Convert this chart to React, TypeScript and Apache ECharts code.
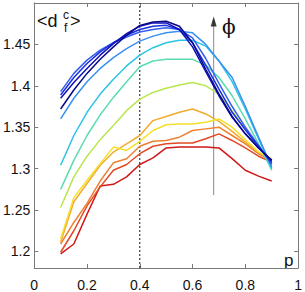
import React, { useEffect, useRef } from "react";
import * as echarts from "echarts";

// occupation probability p
const P = [0.1, 0.15, 0.2, 0.25, 0.3, 0.35, 0.4, 0.45, 0.5, 0.55, 0.6, 0.65, 0.7, 0.75, 0.8, 0.85, 0.9];

// <d_f^c> curves, from lowest phi (red) to highest phi (navy)
const R1 = [1.197, 1.209, 1.245, 1.279, 1.281, 1.29, 1.305, 1.313, 1.325, 1.326, 1.326, 1.326, 1.325, 1.312, 1.298, 1.291, 1.285];
const R2 = [1.199, 1.225, 1.255, 1.278, 1.298, 1.305, 1.318, 1.327, 1.33, 1.331, 1.331, 1.336, 1.342, 1.334, 1.325, 1.315, 1.308];
const R3 = [1.209, 1.235, 1.258, 1.285, 1.307, 1.312, 1.327, 1.333, 1.334, 1.338, 1.346, 1.348, 1.35, 1.34, 1.33, 1.318, 1.31];
const O1 = [1.211, 1.26, 1.282, 1.304, 1.32, 1.33, 1.34, 1.358, 1.363, 1.368, 1.372, 1.366, 1.357, 1.345, 1.332, 1.32, 1.31];
const YE = [1.215, 1.265, 1.286, 1.306, 1.326, 1.322, 1.333, 1.346, 1.353, 1.354, 1.354, 1.356, 1.36, 1.35, 1.335, 1.32, 1.312];
const YG = [1.253, 1.29, 1.315, 1.335, 1.352, 1.37, 1.384, 1.392, 1.397, 1.401, 1.404, 1.4, 1.39, 1.37, 1.348, 1.326, 1.306];
const GR = [1.275, 1.31, 1.34, 1.365, 1.386, 1.405, 1.423, 1.43, 1.432, 1.432, 1.432, 1.425, 1.41, 1.388, 1.36, 1.33, 1.298];
const CY = [1.304, 1.34, 1.368, 1.39, 1.408, 1.424, 1.437, 1.446, 1.452, 1.455, 1.455, 1.448, 1.43, 1.405, 1.372, 1.336, 1.3];
const AZ = [1.36, 1.385, 1.405, 1.421, 1.434, 1.445, 1.454, 1.46, 1.464, 1.466, 1.464, 1.45, 1.43, 1.41, 1.375, 1.338, 1.302];
const B4 = [1.393, 1.415, 1.431, 1.443, 1.452, 1.459, 1.465, 1.468, 1.47, 1.468, 1.458, 1.433, 1.403, 1.375, 1.35, 1.328, 1.305];
const B3 = [1.389, 1.41, 1.427, 1.441, 1.452, 1.461, 1.468, 1.472, 1.473, 1.468, 1.452, 1.425, 1.396, 1.368, 1.347, 1.327, 1.307];
const B2 = [1.385, 1.404, 1.421, 1.437, 1.451, 1.463, 1.472, 1.476, 1.476, 1.468, 1.447, 1.417, 1.388, 1.362, 1.342, 1.325, 1.31];
const B1 = [1.372, 1.395, 1.415, 1.432, 1.447, 1.461, 1.473, 1.477, 1.478, 1.472, 1.452, 1.42, 1.39, 1.363, 1.342, 1.325, 1.31];

const CURVES = [R1, R2, R3, O1, YE, YG, GR, CY, AZ, B4, B3, B2, B1];
const COLORS = ["#d01818", "#e04a26", "#ee8030", "#f0ac2c", "#f4e02a", "#b8e650", "#5cdcae", "#2cc4e4", "#3a90f0", "#3460f0", "#1a30e0", "#1010b8", "#080888"];

const X_TICKS = [0, 0.2, 0.4, 0.6, 0.8, 1];
const Y_TICKS = [1.2, 1.25, 1.3, 1.35, 1.4, 1.45];
const Y_MIN = 1.18;
const Y_MAX = 1.5;
const MARK_P = 0.4;
const ARROW_P = 0.68;
const ARROW_FROM = 1.268;
const ARROW_TO = 1.48;

const fmt = (v: number) => String(+Number(v).toFixed(2));

export default function App() {
  const ref = useRef<HTMLDivElement>(null);
  useEffect(() => {
    const chart = echarts.init(ref.current!, null, { renderer: "svg" });
    const axisColor = "#7a7a7a";
    const sans = "Liberation Sans, Arial, sans-serif";
    const labelFont = { color: "#111", fontSize: 14, fontFamily: sans };
    const xBase = {
      type: "value",
      min: 0,
      max: 1,
      interval: 0.2,
      splitLine: { show: false },
      axisLine: { show: true, onZero: false, lineStyle: { color: axisColor, width: 1 } },
      axisTick: { show: true, inside: true, length: 4, lineStyle: { color: axisColor } },
    };
    const yBase = {
      type: "value",
      min: Y_MIN,
      max: Y_MAX,
      splitLine: { show: false },
      axisLine: { show: true, onZero: false, lineStyle: { color: axisColor, width: 1 } },
      axisTick: { show: true, inside: true, length: 4, customValues: Y_TICKS, lineStyle: { color: axisColor } },
    };
    const series: any[] = [];
    series.push({
      type: "line",
      data: [[ARROW_P, ARROW_FROM], [ARROW_P, ARROW_TO]],
      symbol: "none",
      lineStyle: { color: "#8a8a8a", width: 1 },
      z: 2,
    });
    series.push({
      type: "line",
      data: [[MARK_P, Y_MIN], [MARK_P, Y_MAX]],
      symbol: "none",
      lineStyle: { color: "#111", width: 1, type: [2, 2] },
      z: 2,
    });
    CURVES.forEach((vals, i) => {
      series.push({
        type: "line",
        data: P.map((p, j) => [p, vals[j]]),
        symbol: "none",
        lineStyle: { color: COLORS[i], width: 1.5 },
        z: 3,
      });
    });
    series.push({
      type: "scatter",
      data: [[ARROW_P, ARROW_TO]],
      symbol: "triangle",
      symbolSize: [6, 10],
      symbolOffset: [0, 2],
      itemStyle: { color: "#111" },
      z: 5,
    });
    chart.setOption({
      animation: false,
      backgroundColor: "#fff",
      grid: { left: 32, right: 5, top: 3, bottom: 21, containLabel: false },
      xAxis: [
        {
          ...xBase,
          position: "bottom",
          axisLabel: { ...labelFont, margin: 10, customValues: X_TICKS, formatter: fmt },
        },
        { ...xBase, position: "top", axisLabel: { show: false } },
      ],
      yAxis: [
        {
          ...yBase,
          position: "left",
          axisLabel: { ...labelFont, margin: 4, customValues: Y_TICKS, formatter: fmt },
        },
        { ...yBase, position: "right", axisLabel: { show: false } },
      ],
      graphic: [
        { type: "text", left: 37, top: 12, style: { text: "<d", fontSize: 18, fontFamily: sans, fill: "#111" } },
        { type: "text", left: 63, top: 9, style: { text: "c", fontSize: 12, fontFamily: sans, fill: "#111" } },
        { type: "text", left: 64, top: 22, style: { text: "f", fontSize: 12, fontFamily: sans, fill: "#111" } },
        { type: "text", left: 70, top: 12, style: { text: ">", fontSize: 18, fontFamily: sans, fill: "#111" } },
        { type: "text", left: 222, top: 17, style: { text: "ϕ", fontSize: 20, fontFamily: "DejaVu Serif, serif", fill: "#111" } },
        { type: "text", left: 284, top: 252, style: { text: "p", fontSize: 17, fontFamily: sans, fill: "#111" } },
      ],
      series,
    });
    return () => chart.dispose();
  }, []);
  return (
    <div
      ref={ref}
      style={{ position: "fixed", left: 0, top: 0, width: 305, height: 292, background: "#fff" }}
    />
  );
}
